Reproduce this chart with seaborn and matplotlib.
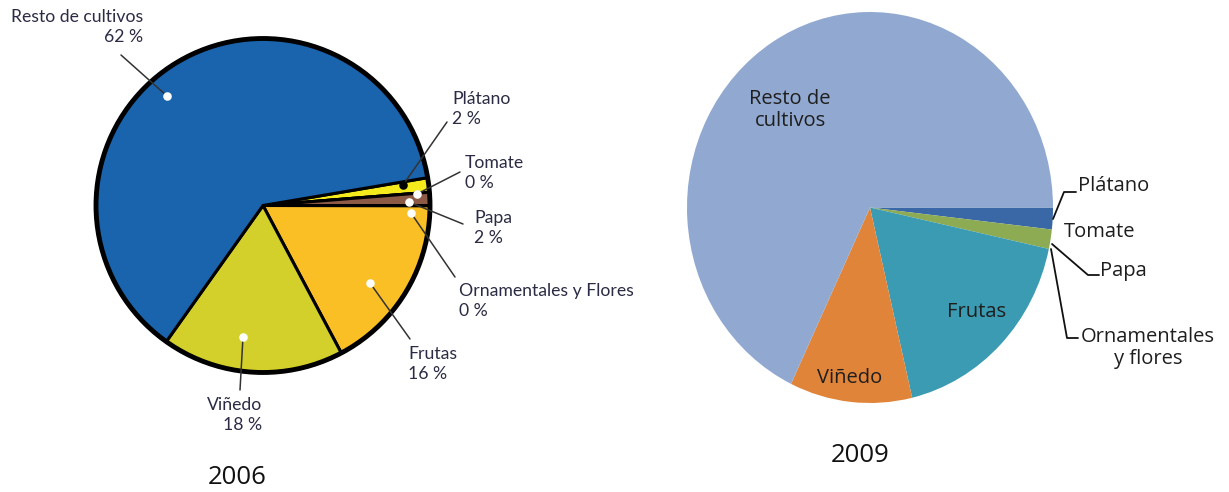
import numpy as np
import seaborn as sns
import matplotlib.pyplot as plt
from matplotlib.patches import Circle

# data
cultivos = ["Plátano", "Tomate", "Papa", "Ornamentales y Flores", "Frutas", "Viñedo", "Resto de cultivos"]
shares_2006 = [1.4, 0.0, 1.3, 0.0, 17.2, 17.6, 62.5]     # wedge sizes (%)
labels_2006 = ["2 %", "0 %", "2 %", "0 %", "16 %", "18 %", "62 %"]  # printed values
shares_2009 = [1.8, 0.0, 1.6, 0.0, 17.9, 10.8, 67.9]
names_2009 = ["Plátano", "Tomate", "Papa", "Ornamentales\ny flores", "Frutas", "Viñedo", "Resto de\ncultivos"]

colors_2006 = ["#f4ea1c", "#f4ea1c", "#8c5a45", "#8c5a45", "#fbbf26", "#d3d02b", "#1a63ad"]
colors_2009 = ["#3a67a6", "#3a67a6", "#8cab52", "#8cab52", "#3a9bb3", "#e0843a", "#91a9d0"]

sns.set_theme(style="white")
plt.rcParams["font.family"] = ["Lato", "DejaVu Sans"]

W, H = 1229, 492
fig = plt.figure(figsize=(W / 100, H / 100), dpi=100)

# the 2009 pie is a bit taller than wide in the original, so it gets its own axes
cx09, cy09, rx09, ry09 = 870, 207.5, 183, 195.5
ax2 = fig.add_axes([(cx09 - rx09) / W, (H - cy09 - ry09) / H, 2 * rx09 / W, 2 * ry09 / H])
ax = fig.add_axes([0, 0, 1, 1])
ax.set_zorder(2)
ax2.set_zorder(1)

def y(v):
    # pixel rows from the top -> data coords
    return H - v

# ---- 2006 pie ----
c06 = (263, y(205.5))
r06 = 167
ax.pie(shares_2006, colors=colors_2006, startangle=9.6, counterclock=False,
       center=c06, radius=r06, wedgeprops=dict(edgecolor="black", linewidth=2.2))
ax.add_patch(Circle(c06, r06, fill=False, edgecolor="black", linewidth=3.5, zorder=5))

txt06 = "#2b2b45"
# (dot, line end, label pos, ha, dot colour)
notes06 = [
    ((403, 185), (447, 122), (452, 109), "left", "black"),
    ((417, 194), (460, 172), (465, 173), "left", "white"),
    ((409, 202), (463, 224), (474, 228), "left", "white"),
    ((411, 213), (455, 277), (459, 301), "left", "white"),
    ((370, 283), (410, 339), (408, 364), "left", "white"),
    ((243, 337), (240, 390), (262, 415), "right", "white"),
    ((167, 96), (121, 55), (143, 27), "right", "white"),
]
for name, pct, (dot, end, lab, ha, dc) in zip(cultivos, labels_2006, notes06):
    ax.plot([dot[0], end[0]], [y(dot[1]), y(end[1])], color="#333333", lw=1.1, zorder=6)
    ax.scatter([dot[0]], [y(dot[1])], s=38, color=dc, zorder=7, linewidths=0)
    ax.text(lab[0], y(lab[1]), f"{name}\n{pct}", ha=ha, va="center", multialignment=ha,
            fontsize=12.7, color=txt06, linespacing=1.3, zorder=8)

f09 = ["Open Sans", "DejaVu Sans"]
ax.text(237, y(478), "2006", ha="center", va="center", fontsize=18.5, color="#111111", family=f09)

# ---- 2009 pie ----
ax2.pie(shares_2009, colors=colors_2009, startangle=0, counterclock=False,
        radius=1, wedgeprops=dict(linewidth=0))
ax2.set_xlim(-1, 1)
ax2.set_ylim(-1, 1)
ax2.set_aspect("auto")
ax2.axis("off")

txt09 = "#1e1e1e"
inner = {"Resto de\ncultivos": (790, 110), "Viñedo": (850, 378), "Frutas": (977, 312)}
for name, (px, py) in inner.items():
    ax.text(px, y(py), name, ha="center", va="center", fontsize=14.5, color=txt09,
            family=f09, linespacing=1.15)

outer = {
    "Plátano": ((1078, 186), "left", [(1053, 219), (1064, 192), (1076, 192)]),
    "Tomate": ((1064, 232), "left", None),
    "Papa": ((1100, 271), "left", [(1052, 244), (1088, 275), (1099, 275)]),
    "Ornamentales\ny flores": ((1148, 348), "center", [(1051, 249), (1067, 338), (1078, 338)]),
}
for name, ((px, py), ha, path) in outer.items():
    ax.text(px, y(py), name, ha=ha, va="center", fontsize=14.5, color=txt09,
            family=f09, linespacing=1.15)
    if path:
        xs, ys = zip(*path)
        ax.plot(xs, [y(v) for v in ys], color="#111111", lw=1.3)

ax.text(860, y(456), "2009", ha="center", va="center", fontsize=18.5, color="#111111", family=f09)

ax.set_xlim(0, W)
ax.set_ylim(0, H)
ax.set_aspect("equal")
ax.axis("off")

fig.savefig("out.png", dpi=100, facecolor="white")
